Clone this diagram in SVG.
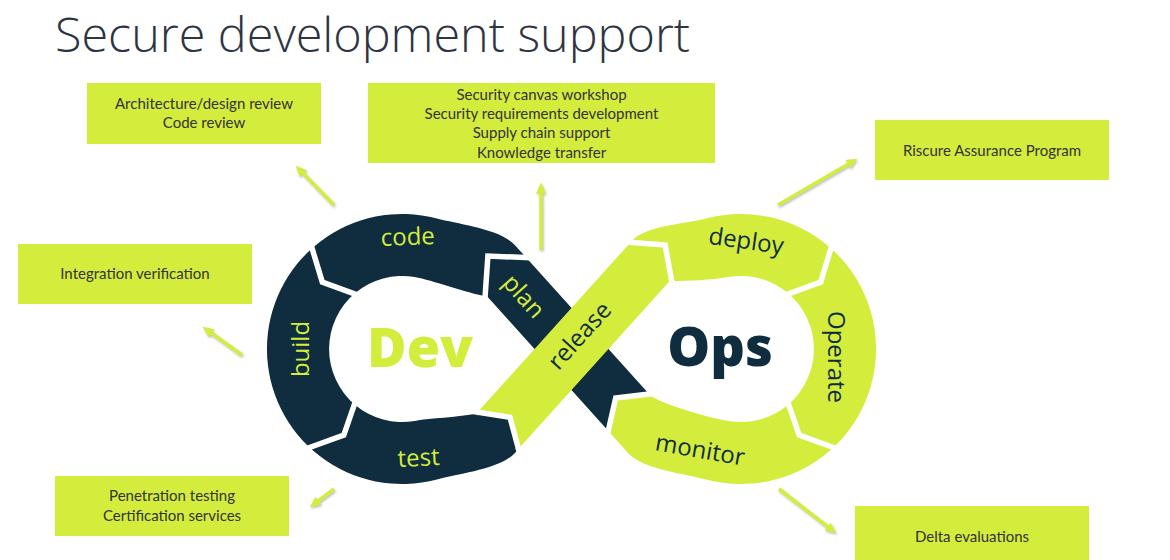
<svg xmlns="http://www.w3.org/2000/svg" width="1170" height="560" viewBox="0 0 1170 560">
<defs>
<style>
.box{fill:#d4ec3c}
.bt{font-family:Lato,'Liberation Sans',sans-serif;font-size:15px;fill:#333333;text-anchor:middle}
.dark{fill:#102c3f}
.lime{fill:#d4ec3c}
.gap{fill:none;stroke:#ffffff;stroke-width:5.5;stroke-linejoin:miter;stroke-linecap:butt}
.lbl{font-family:'Open Sans','Noto Sans',sans-serif;font-size:24px;text-anchor:middle}
.ll{fill:#d4ec3c}
.ld{fill:#102c3f}
.big{font-family:'Open Sans','Noto Sans',sans-serif;font-weight:800;font-size:54px;text-anchor:middle}
.conn{stroke:#d4ec3c;stroke-width:3.5;fill:none;marker-end:url(#ah)}
</style>
<marker id="ah" viewBox="0 0 10 10" refX="6" refY="5" markerWidth="11" markerHeight="11" markerUnits="userSpaceOnUse" orient="auto">
<path d="M0,0.5 L10,5 L0,9.5 Z" fill="#d4ec3c"/>
</marker>
<filter id="sh" x="-50%" y="-50%" width="200%" height="200%">
<feDropShadow dx="1" dy="1.5" stdDeviation="1" flood-color="#777777" flood-opacity="0.5"/>
</filter>
</defs>
<rect width="1170" height="560" fill="#ffffff"/>
<text x="55" y="52" font-family="'Open Sans','Noto Sans',sans-serif" font-weight="300" font-size="47" fill="#2e3442" textLength="635" lengthAdjust="spacingAndGlyphs">Secure development support</text>

<g id="devops-loop">
<path class="dark" d="M613.4 435.1 L652.7 399.6 L648.7 395.2 L649.5 394.5 L515.0 245.2 C500.3 228.9 458.2 224.3 436.9 218.6 A135 135 0 1 0 436.9 479.4 C458.2 473.7 500.3 469.2 515.0 452.9 L517.0 450.6 L515.2 449.0 L543.3 417.7 L506.1 384.3 L478.0 415.5 L476.1 413.8 C454.1 417.8 432.4 417.8 414.7 420.9 A73 73 0 1 1 414.7 277.1 C432.4 280.2 465.5 292.8 487.5 296.8 L608.6 431.3 L609.3 430.6 Z"/>
<polyline class="gap" points="310.8,244.1 322.3,282.1 358.6,295.4"/>
<polyline class="gap" points="305.4,449 343.8,435.2 355.8,400.3"/>
<polyline class="gap" points="531.0,257.7 487.9,256.1 484.9,299.2"/>
<path class="lime" d="M517.0 450.6 L510.0 417.4 L476.1 413.8 L631.4 241.4 C646.1 225.1 684.8 224.3 706.1 218.6 A135 135 0 1 1 706.1 479.4 C684.8 473.7 642.7 469.2 628.0 452.9 L609.9 432.8 L615.7 398.0 L650.8 396.0 C672 408 710.6 417.8 728.3 420.9 A73 73 0 1 0 728.3 277.1 C710.6 280.2 690 281 669.5 281.2 Z"/>
<polyline class="gap" points="832.2,244.1 820.7,282.1 784.4,295.4"/>
<polyline class="gap" points="837.6,449 799.2,435.2 787.2,400.3"/>
<polyline class="gap" points="653.4,393.6 615.7,398.0 607.3,435.1"/>
<polyline class="gap" points="519.6,453.0 510.0,417.4 473.5,411.5"/>
<polyline class="gap" points="626.1,242.1 665.2,245.0 672.1,283.6"/>

<text class="lbl ll" transform="translate(408,245) rotate(-2)">code</text>
<text class="lbl ll" transform="translate(300,349) rotate(-90)" y="8.5">build</text>
<text class="lbl ll" transform="translate(419,466) rotate(-3)">test</text>
<text class="lbl ll" transform="translate(523,297) rotate(48)" y="7">plan</text>
<text class="lbl ld" transform="translate(580,336) rotate(-48)" y="7.5">release</text>
<text class="lbl ld" transform="translate(746,242) rotate(8)" y="7">deploy</text>
<text class="lbl ld" transform="translate(836,357) rotate(90)" y="8.5">Operate</text>
<text class="lbl ld" transform="translate(700,451) rotate(10)" y="7">monitor</text>
<text class="big ll" x="420" y="367">Dev</text>
<text class="big ld" x="720" y="366">Ops</text>
</g>

<g id="box-architecture">
<rect class="box" x="87" y="83" width="234" height="61"/>
<text class="bt" x="204" y="109">Architecture/design review</text>
<text class="bt" x="204" y="128">Code review</text>
</g>
<g id="box-security">
<rect class="box" x="368" y="83" width="347" height="80"/>
<text class="bt" x="541.5" y="100">Security canvas workshop</text>
<text class="bt" x="541.5" y="119">Security requirements development</text>
<text class="bt" x="541.5" y="138">Supply chain support</text>
<text class="bt" x="541.5" y="158">Knowledge transfer</text>
</g>
<g id="box-riscure">
<rect class="box" x="875" y="120" width="234" height="60"/>
<text class="bt" x="992" y="156">Riscure Assurance Program</text>
</g>
<g id="box-integration">
<rect class="box" x="18" y="244" width="234" height="60"/>
<text class="bt" x="135" y="279">Integration verification</text>
</g>
<g id="box-penetration">
<rect class="box" x="55" y="476" width="234" height="60"/>
<text class="bt" x="172" y="501">Penetration testing</text>
<text class="bt" x="172" y="521">Certification services</text>
</g>
<g id="box-delta">
<rect class="box" x="855" y="506" width="234" height="60"/>
<text class="bt" x="972" y="542">Delta evaluations</text>
</g>

<g id="connectors" filter="url(#sh)">
<line class="conn" x1="334" y1="205" x2="298.8" y2="168.9"/>
<line class="conn" x1="541" y1="250" x2="541" y2="187"/>
<line class="conn" x1="778" y1="205" x2="853.5" y2="161"/>
<line class="conn" x1="242" y1="355" x2="206.2" y2="329.3"/>
<line class="conn" x1="334" y1="489" x2="313.2" y2="504.6"/>
<line class="conn" x1="779" y1="489" x2="832.8" y2="530.6"/>
</g>
</svg>
